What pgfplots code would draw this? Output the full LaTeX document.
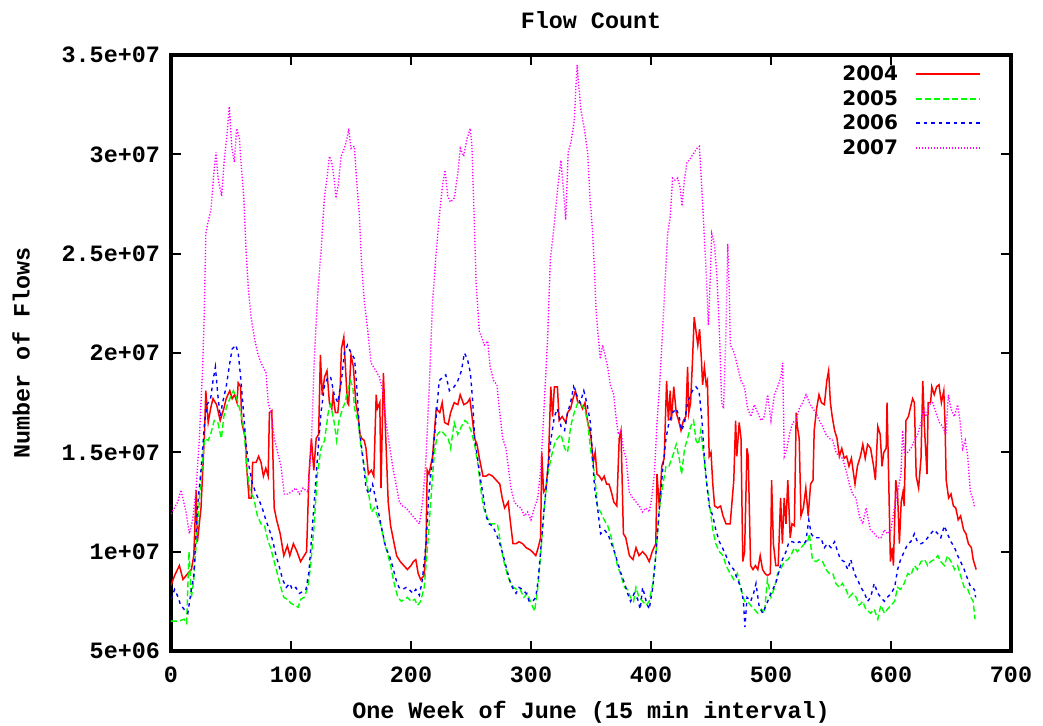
\documentclass[border=0pt]{standalone}
\usepackage{pgfplots}
\pgfplotsset{compat=1.18}
\usepackage{fontspec}
\setmonofont{Liberation Mono}
\newfontfamily\legfont{DejaVu Sans}
\newcommand\gp{\ttfamily\bfseries\fontsize{11.7}{14}\selectfont}
\definecolor{c04}{RGB}{255,0,0}
\definecolor{c05}{RGB}{0,255,0}
\definecolor{c06}{RGB}{0,0,255}
\definecolor{c07}{RGB}{255,0,255}

% flow counts, in millions
\begin{document}
\begin{tikzpicture}
\useasboundingbox (-85.5pt,-37.5pt) rectangle (436pt,325.5pt);
\begin{axis}[
    at={(0pt,0pt)}, anchor=south west,
    width=420pt, height=298pt, scale only axis,
    xmin=0, xmax=700, ymin=5, ymax=35,
    xtick={0,100,...,700},
    ytick={5,10,...,35},
    yticklabels={5e+06,1e+07,1.5e+07,2e+07,2.5e+07,3e+07,3.5e+07},
    tick align=inside, tick pos=both,
    major tick length=5pt,
    every tick/.style={black, line width=1pt},
    axis line style={line width=1.6pt},
    ticklabel style={font=\gp},
    /pgf/number format/assume math mode=true,
    xticklabel style={yshift=-4.5pt},
    yticklabel style={xshift=-2pt},
    title={Flow Count},
    title style={at={(axis description cs:0.5,1.0587)}, anchor=center, yshift=-6pt, font=\gp},
    xlabel={One Week of June (15 min interval)},
    xlabel style={at={(axis description cs:0.5,-0.1023)}, anchor=center, font=\gp},
    ylabel={Number of Flows},
    ylabel style={at={(axis description cs:-0.1786,0.5)}, anchor=center, font=\gp},
    legend plot pos=right,
    legend cell align=right,
    legend image code/.code={\draw[#1, line width=1pt] (0pt,0.25pt) -- (32pt,0.25pt);},
    legend style={draw=none, fill=none, inner sep=0pt, outer sep=0pt,
        at={(axis description cs:0.9643,0.987)}, anchor=north east,
        font=\legfont\bfseries\fontsize{10}{12}\selectfont,
        nodes={inner sep=0pt, minimum height=12.25pt}, row sep=0pt,
        /tikz/every odd column/.append style={column sep=8.5pt}},
]
% 2004
\addplot[c04, line width=0.75pt] coordinates {
(0,8.3)(3,8.8)(7,9.3)(10,8.6)(14,8.9)(17,9.1)(19,9.8)(21,13.1)(22,10.5)(25,12.2)(28,16.1)(29,18.1)(31,16.5)(33,17.2)(35,17.7)(38,17.4)(41,16.6)(44,17.2)(46,17.7)(49,18.1)(51,17.7)(53,17.9)(55,17.5)(56,18.5)(58,18.3)(59,16.5)(62,15.7)(63,14.3)(65,12.7)(67,12.7)(68,14.5)(71,14.5)(73,14.8)(75,14.5)(77,13.8)(79,14.2)(81,13.8)(82,17.0)(84,17.1)(86,12.2)(88,11.6)(91,10.9)(94,9.8)(97,10.3)(99,9.8)(102,10.4)(105,10.0)(108,9.5)(111,9.8)(113,10.0)(115,13.9)
(117,15.7)(119,14.1)(121,15.7)(123,15.9)(124.5,19.9)(126,17.9)(128,18.8)(130,19.1)(132,17.5)(134,17.2)(135,17.9)(137,17.0)(139,17.0)(141,18.3)(142,20.2)(144,20.8)(145,19.7)(147,17.5)(148,17.4)(150,19.9)(152,19.3)(154,17.5)(156,16.8)(157.5,15.9)(159,15.7)(161,15.6)(162.5,15.2)(164.5,13.9)(167,14.1)(169,13.8)(171,17.9)(172,17.2)(174,17.5)(175,13.2)(177,19.0)(179,15.7)(181,12.5)(183,11.3)(186,10.4)(188,9.8)(191,9.5)(194,9.3)(197,9.1)(200,9.3)(202,9.5)(204,9.6)(206,8.9)(208,8.6)(211,8.8)(212.5,10.4)(213.5,14.1)(215,13.9)(218,14.8)(221,17.2)(224,17.0)(226,17.5)(228,16.5)(231,16.4)(233,17.0)
(236,17.5)(239,17.4)(241,17.9)(244,17.4)(247,17.5)(249,17.7)(250.5,17.0)(253,15.7)(255,15.4)(257,14.7)(260,13.8)(262.5,13.8)(265,13.9)(268,13.8)(271,13.6)(274,13.4)(276,12.7)(278,12.2)(281,12.5)(283,11.4)(285,10.4)(287.5,10.4)(290,10.5)(293,10.4)(296,10.2)(299,10.1)(301,10.0)(304,9.8)(306,10.2)(308,10.7)(309,15.0)(310.5,13.0)(312.5,13.2)(314.5,14.5)(316.5,18.3)(318,16.8)(319.5,18.3)(322,18.3)(323.5,16.6)(326,16.8)(329,16.5)(330.5,17.0)(333,17.2)(335,17.7)(337,18.1)(339,17.5)(341,17.5)(343,17.2)(345,17.5)(347,16.6)(349,16.1)
(350,15.7)(352,14.5)(353.5,15.0)(355,13.9)(357,13.8)(359,13.6)(361,13.8)(363,13.4)(365,13.4)(367,13.0)(369,12.5)(371.5,12.3)(373.5,15.7)(375,16.1)(377,10.9)(379,10.7)(382,9.8)(385,9.6)(387.5,10.2)(390,9.8)(393,10.0)(396,9.8)(398.5,9.5)(401,10.0)(404,10.4)(405,13.9)(407,12.2)(409,14.3)(411,14.7)(413,18.6)(414.5,16.6)(416,18.1)(417,16.6)(419,18.3)(421,17.0)(423,16.6)(425,16.1)(427,16.6)(429,16.8)(430.5,19.3)(431.5,17.0)(433,17.5)(434.5,19.5)(436,21.8)(437.5,21.1)(439,20.4)(440.5,21.2)(442,19.7)(443,18.4)(444.5,19.3)(446,18.4)(447,18.6)(448.5,14.8)(450,15.0)(451.5,13.4)(453,12.3)(455.5,12.2)(458,12.3)(460,11.8)(462.5,11.4)(466,11.4)
(469,13.6)(470.5,16.6)(471.5,14.8)(473.5,16.5)(475,15.7)(476.5,9.5)(478,10.0)(480,15.2)(481,14.8)(483,9.3)(485,9.1)(487,9.3)(489,9.1)(491,9.8)(493,9.1)(495,8.9)(497,8.8)(499.5,8.9)(500.5,13.6)(502,10.4)(504,9.3)(506,9.3)(508,12.7)(509.5,10.4)(511,12.7)(512.5,11.4)(514,13.6)(516,10.7)(517.5,11.4)(519.5,11.3)(521,17.0)(522,16.3)(523.5,15.7)(525,11.8)(527,12.2)(529,13.2)(531,11.8)(533,13.4)(535,13.6)(536,16.1)(538,17.2)(540,17.9)(542,17.5)(544.5,17.4)(546.5,18.6)(548,19.1)(549.5,17.5)(551,16.8)(553,16.1)(555,15.7)(557,14.8)(559,15.2)(561,14.7)(563,14.8)(565,14.3)(567,14.7)(570,13.4)(572,14.3)(574.5,14.8)(576.5,15.4)(578.5,14.7)(580.5,15.4)(583,15.2)
(585.5,14.3)(587,13.6)(589,16.3)(591,15.9)(592.5,14.3)(594,15.0)(596,15.2)(596.7,17.5)(598,13.9)(599.5,9.5)(601,10.2)(602,9.3)(604,13.6)(605.5,12.9)(607,10.4)(608.5,12.5)(610,13.0)(611,12.3)(612.5,16.6)(614.5,16.8)(616,17.2)(618,17.7)(619.5,17.5)(621,13.8)(623,13.2)(625,14.7)(626.5,18.6)(628,16.1)(630,13.9)(631,17.5)(633,17.5)(634,18.3)(636,17.9)(638,18.3)(640,18.4)(642,17.5)(644,18.1)(645,16.5)(646,13.6)(648,12.7)(650,12.9)(652,12.3)(654,12.2)(656,11.6)(658,11.8)(660.5,11.1)(662.5,10.9)(664.5,10.4)(667,10.2)(668.5,9.6)(671,9.1)
};
\addlegendentry{2004}
% 2005
\addplot[c05, line width=0.7pt, dash pattern=on 3pt off 1.5pt] coordinates {
(0,6.5)(6,6.5)(11,6.6)(13,6.4)(15,10.0)(17,7.7)(19,8.6)(22,11.3)(25,13.6)(28,15.7)(31,15.6)(33,15.9)(36,16.6)(39,16.5)(42,15.7)(44,16.8)(47,17.4)(49,17.7)(52,18.1)(55,17.7)(58,17.0)(61,16.1)(63,14.3)(66,13.0)(69,12.7)(72,11.8)(75,11.4)(78,11.3)(81,10.5)(83,10.2)(86,9.5)(89,8.8)(92,8.1)(94,7.7)(97,7.6)(100,7.4)(103,7.3)(106,7.2)(108,7.6)(111,7.7)(114,8.2)(116,9.1)
(119,11.1)(122,13.9)(125,15.2)(128,15.6)(131,17.0)(133,17.4)(136,16.5)(138,15.6)(140,16.6)(143,17.2)(145,17.5)(147,18.1)(149.5,18.6)(151.5,18.3)(153,17.2)(156,16.5)(158,15.4)(161,14.3)(164,13.2)(167,12.0)(169.5,12.2)(172,11.8)(175,11.3)(178,10.4)(181,9.8)(183,9.3)(186,8.4)(189,7.7)(192,7.5)(194.5,7.6)(197,7.7)(200,7.5)(203,7.6)(205.5,7.3)(208,7.5)(211,8.2)(214,10.4)(217,13.0)(219.5,15.0)(222,15.9)(225,16.1)(228,15.9)(231,15.7)
(233,15.2)(236,16.5)(239,15.9)(242,16.3)(245,16.6)(247,16.5)(250,16.1)(253,15.4)(256,14.3)(258,13.2)(260.5,12.2)(263,11.8)(266,11.4)(269,11.4)(272,11.4)(274.5,10.5)(277,9.6)(280,8.9)(283,8.4)(285.5,8.2)(288,8.1)(291,8.1)(294,7.7)(297,7.9)(299.5,7.5)(303,7.0)(305.5,8.1)(308,9.8)(311,12.2)(314,13.9)(317,14.8)(319.5,15.4)(322,15.7)(325,15.9)(328,15.2)(330.5,15.0)(333,16.3)(336,17.0)(339,17.5)(342,17.4)(344.5,17.2)(347,16.6)(349.5,15.2)
(353,13.9)(355.5,12.2)(358,12.0)(361,11.6)(364,11.3)(367,10.7)(369.5,10.0)(372,9.3)(375,8.8)(378,8.2)(380.5,8.1)(383,7.7)(385.5,7.5)(387.5,8.2)(390,7.7)(393,7.5)(396,7.3)(398.5,7.5)(401.5,8.4)(404,9.8)(407,12.2)(410,13.4)(412.5,14.3)(415,14.3)(418,14.8)(421,15.4)(423.5,14.7)(425.5,13.9)(428,15.2)(430.5,15.7)(433,16.3)(435.5,16.6)(437.5,15.6)(439.5,15.4)(441.5,16.1)(444,14.8)(446,13.6)(448.5,12.5)(451.5,11.1)(454,10.4)(457,10.0)(460,9.8)(462.5,9.3)(466,8.9)
(469,8.6)(472,8.9)(475,8.1)(478,7.5)(480.5,7.5)(483,7.3)(486,7.1)(489,6.9)(492,7.1)(494.5,6.9)(497,8.6)(500,7.7)(503,8.2)(505.5,8.9)(508,9.1)(511,9.5)(514,9.6)(516.5,9.8)(519.5,10.2)(522,10.0)(525,10.2)(528,10.4)(530.5,10.5)(532,10.9)(534.5,9.6)(537.5,9.5)(540,9.6)(543,9.5)(546,9.1)(548.5,8.9)(551.5,8.9)(554,8.4)(557,8.2)(559.5,8.4)(562.5,8.1)(565,7.7)(568,7.9)(571,7.7)(573.5,7.3)(576.5,7.5)(579,7.1)(583,6.9)
(586,7.1)(589,6.6)(591.5,7.3)(594.5,6.9)(597,7.1)(600,7.3)(603,7.5)(605.5,8.2)(608,8.1)(611,8.4)(614,8.9)(616.5,8.8)(619.5,9.3)(622,9.1)(625,9.5)(628,9.6)(630.5,9.3)(633,9.5)(636,9.6)(639,9.8)(641.5,9.5)(644.5,9.3)(647,9.8)(650,9.5)(653,9.1)(655.5,9.3)(658,8.8)(661,8.2)(664,8.1)(666.5,7.7)(668.5,7.5)(670,6.6)
};
\addlegendentry{2005}
% 2006
\addplot[c06, line width=0.7pt, dash pattern=on 1.75pt off 2pt] coordinates {
(0,7.6)(3,8.1)(6,7.7)(8,7.3)(11,7.1)(14,6.9)(17,8.1)(19,8.8)(22,12.2)(25,14.1)(28,16.5)(30,17.4)(33,17.7)(35,18.6)(37,19.3)(39,17.9)(41,16.8)(43,17.5)(46,18.3)(49,19.5)(51,20.2)(54,20.4)(56,20.0)(58,18.8)(61,16.6)(62.5,15.4)(65,14.3)(68,13.4)(71,12.9)(74,12.5)(76,12.2)(79,11.6)(82,11.1)(85,10.5)(87.5,9.8)(90,9.3)(93,8.6)(96,8.2)(99,8.4)(101,8.1)(104,8.2)(107,7.9)(110,8.0)(112.5,8.1)(115,9.0)
(119,12.2)(122,14.7)(125,17.0)(128,18.4)(131,18.8)(133,18.8)(136,17.9)(139,17.5)(142,18.6)(144.5,20.0)(147,20.4)(150,20.0)(153,19.7)(155,18.1)(157,16.1)(160,14.7)(162.5,13.2)(165,12.9)(168,13.4)(171,12.5)(173.5,11.8)(176.5,10.9)(179,10.2)(182,9.8)(184.5,9.3)(187.5,8.6)(190,8.2)(193,8.1)(196,8.2)(198.5,8.1)(201.5,7.9)(204,8.1)(207,7.8)(209.5,8.6)(212.5,10.4)(215,13.0)(218,14.7)(221,16.8)(223.5,18.6)(226.5,18.8)(229,18.9)(232,18.1)
(236,18.3)(239,18.6)(242,19.1)(244.5,20.0)(247,19.7)(249.5,19.0)(251.5,17.5)(253,15.7)(255.5,14.7)(258,13.6)(260.5,12.7)(262.5,11.8)(265,11.4)(268,11.3)(271,10.9)(273.5,10.5)(276,10.0)(279,9.3)(282,8.6)(284.5,8.2)(287.5,7.9)(290,8.2)(293,8.1)(296,7.9)(298.5,7.5)(301.5,7.5)(304,7.7)(306,8.6)(308,10.0)(311,12.2)(314,14.1)(316.5,15.6)(319.5,16.8)(322,17.2)(325,16.3)(328,16.1)(330.5,17.0)(333,17.5)(335.5,18.3)(338,17.9)(341,17.5)(344,18.1)(346.5,17.5)(349.5,16.5)
(353,13.2)(355.5,12.2)(358,10.9)(361,11.1)(364,10.9)(366.5,10.5)(369.5,10.0)(372,9.5)(375,8.9)(378,8.4)(380.5,7.9)(383,7.5)(386,7.9)(389,7.6)(391,7.1)(393,8.2)(396,7.5)(398.5,7.1)(401.5,8.2)(404,9.8)(407,12.2)(410,14.3)(412.5,15.7)(415,16.5)(418,17.0)(421,17.2)(423.5,16.8)(425.5,16.1)(428,16.5)(430.5,17.5)(433,17.9)(434.5,18.1)(437.5,18.3)(440,18.1)(442.5,16.6)(444.5,14.7)(446.5,13.4)(448.5,12.3)(451.5,11.8)(454,11.1)(457,10.5)(459.5,10.2)(462.5,9.8)(466,9.3)
(469,9.1)(472,8.6)(475,8.2)(477,7.5)(478.3,6.2)(480,7.7)(483,7.5)(485.5,7.9)(487.5,8.4)(490,7.3)(493,6.9)(496,7.3)(498.5,7.7)(501.5,8.1)(504,8.4)(507,9.1)(509.5,9.6)(512.5,10.0)(515,10.5)(518,10.5)(521,10.4)(523.5,10.5)(526.5,10.4)(529,10.5)(531.5,11.6)(533.5,10.9)(536,10.7)(539,10.7)(541.5,10.7)(544.5,10.2)(547,10.4)(550,10.2)(553,10.5)(555.5,10.0)(558,9.6)(561,9.5)(564,9.1)(566.5,9.6)(569.5,8.9)(572,8.6)(575,8.2)(578,7.9)(580.5,7.5)(583,7.7)
(586,8.4)(589,7.9)(591.5,7.7)(594.5,7.5)(597,7.7)(600,7.9)(603,8.2)(605.5,9.1)(608,9.6)(611,10.0)(614,10.4)(616.5,10.5)(619.5,10.9)(622,10.5)(625,10.4)(628,10.5)(630.5,10.7)(633,10.9)(636,11.1)(639,10.9)(641.5,10.7)(644.5,11.3)(647,10.9)(650,10.5)(653,10.2)(655.5,9.8)(658,9.5)(661,9.1)(664,8.6)(666.5,8.2)(669.5,8.1)(670.5,7.7)
};
\addlegendentry{2006}
% 2007
\addplot[c07, line width=0.7pt, dash pattern=on 0.6pt off 0.9pt] coordinates {
(0,11.9)(5.6,12.5)(8.3,13.1)(12.5,12.0)(15.3,10.9)(18,11.6)(21,13.2)(23.6,15.7)(26.4,19.3)(27.8,22.2)(29,26.0)(30.5,26.5)(33.3,27.2)(35.6,29.0)(37.5,30.1)(39.4,28.7)(42.2,27.9)(44.4,29.7)(46.7,31.0)(48.6,32.4)(50.6,30.4)(52.8,29.6)(54.7,31.3)(57,30.8)(58.3,29.6)(60.6,27.9)(62.5,25.2)(64.4,23.3)(66.7,21.8)(69.4,20.8)(72.2,20.0)(75,19.5)(79.2,19.0)(81,17.5)(83.3,17.0)(86.1,15.7)(88.9,15.0)(91.7,14.3)(94.4,12.9)(97.2,12.9)(100,13.0)(104,13.2)(107,12.9)(110,13.2)(114,13.0)
(116.7,15.0)(119.4,19.7)(122.2,22.9)(125,25.1)(127.8,27.8)(129.8,28.7)(132,29.9)(134,29.6)(136.1,28.7)(137.5,27.8)(139.5,28.5)(141.7,29.9)(144.5,30.3)(146.7,30.8)(148.1,31.3)(150,30.3)(152.8,30.4)(154.7,28.7)(157,26.9)(159,24.3)(161.1,22.6)(164,21.1)(166.7,19.5)(170.8,19.1)(173.6,18.8)(176.4,18.1)(179.2,16.5)(182,15.4)(184.7,14.3)(187.5,13.4)(190.3,12.5)(193,12.3)(195.8,12.2)(198.6,12.0)(201.4,11.8)(204.2,11.6)(207,11.4)(209.7,12.5)(212.5,14.7)(215.3,18.4)(218,22.6)(220.8,24.9)(223.6,26.9)(226.4,28.5)(228.4,29.2)(230.6,27.9)(232.8,27.6)
(236.1,27.8)(238.9,29.0)(241.1,30.3)(243.9,29.9)(246.7,30.8)(249.4,31.3)(250.8,30.4)(252.8,26.5)(254.2,23.6)(256.9,21.1)(258.9,20.8)(261.1,20.4)(263.9,20.6)(266,19.3)(268.9,18.6)(271.6,18.4)(273.6,17.2)(276.4,15.7)(279.2,15.2)(281,14.3)(283.3,13.2)(286.1,12.5)(288.9,12.3)(291.7,12.2)(294.4,11.8)(297.2,12.0)(300,11.6)(302.8,12.2)(305.6,12.7)(308.3,14.3)(311.1,17.5)(313.9,20.8)(316.1,24.7)(319.4,26.5)(322.2,28.3)(325,29.7)(327.8,27.6)(328.9,26.7)(331,30.1)(333.3,30.6)(336.1,31.7)(337.5,33.5)(338.5,34.5)(339.4,33.7)(341.7,32.2)(344.4,31.3)(347.2,30.1)(349.4,27.5)
(350,27.2)(351.4,26.0)(352.8,24.3)(354.2,22.2)(355.6,21.1)(357.8,19.7)(359.7,20.4)(361.7,19.9)(363.9,19.3)(366.1,18.4)(368.9,17.9)(370.8,16.8)(372.8,15.9)(375,16.1)(376.9,15.2)(379.2,14.7)(381.9,13.0)(384.7,12.7)(387.5,12.5)(390.3,12.3)(393,12.0)(395.8,12.2)(398.6,12.0)(400.6,12.7)(402.8,13.9)(405,16.5)(407.2,18.4)(409.7,21.1)(411.7,23.6)(413.9,26.0)(416.1,26.9)(418,28.8)(420,28.7)(422.2,28.8)(424.4,28.3)(425.8,27.4)(427.8,28.7)(430,29.6)(431.9,29.7)(433.9,29.9)(436.1,30.1)(438.3,30.3)(440.3,30.4)(441.7,29.0)(443.9,26.5)(445.8,24.3)(447.8,21.4)(449.4,23.8)(450.6,26.0)(452.8,25.5)(455,23.8)(457,21.1)(458.9,17.5)(460.5,17.2)(462.5,21.1)(463.9,25.5)(465.3,23.0)(466.1,20.4)
(469.4,20.0)(472.2,19.3)(475,18.6)(477.8,18.3)(480.6,17.2)(483.3,16.8)(486.1,17.4)(488.9,17.0)(491.7,16.6)(494.4,16.8)(497.2,17.9)(500,16.6)(502.8,17.9)(505.6,18.3)(508.3,18.8)(509.7,19.5)(511.1,14.8)(513.3,15.2)(515.3,15.9)(518.1,16.5)(520.8,16.6)(523.6,17.2)(526.4,17.5)(529.2,17.9)(532,17.5)(534.7,17.2)(537.5,17.0)(540.3,16.6)(543,16.3)(545.8,15.9)(548.6,15.7)(551.4,15.6)(554.2,15.0)(557,14.8)(559.7,14.7)(562.5,14.1)(565.3,13.4)(568,12.9)(570.8,12.7)(573.6,11.8)(576.4,11.4)(579.2,12.2)(582.8,11.1)
(586.1,10.9)(588.9,10.7)(591.7,10.7)(594.4,11.1)(597.2,10.9)(600,11.1)(602.8,12.2)(605.6,13.0)(608.3,13.9)(609.7,16.1)(611.1,15.0)(613.9,15.0)(616.7,15.2)(619.4,15.6)(622.2,15.9)(625,16.5)(627.2,17.2)(629.2,16.8)(631.9,17.4)(634.7,17.5)(637.5,17.0)(640.3,16.5)(643,16.3)(645.8,15.9)(647.8,17.9)(650,17.2)(652.8,16.8)(655.5,17.4)(657.7,16.5)(659.7,15.2)(661.9,15.6)(663.9,14.8)(666.1,13.0)(668,12.7)(670,12.2)
};
\addlegendentry{2007}
\end{axis}
\end{tikzpicture}
\end{document}
